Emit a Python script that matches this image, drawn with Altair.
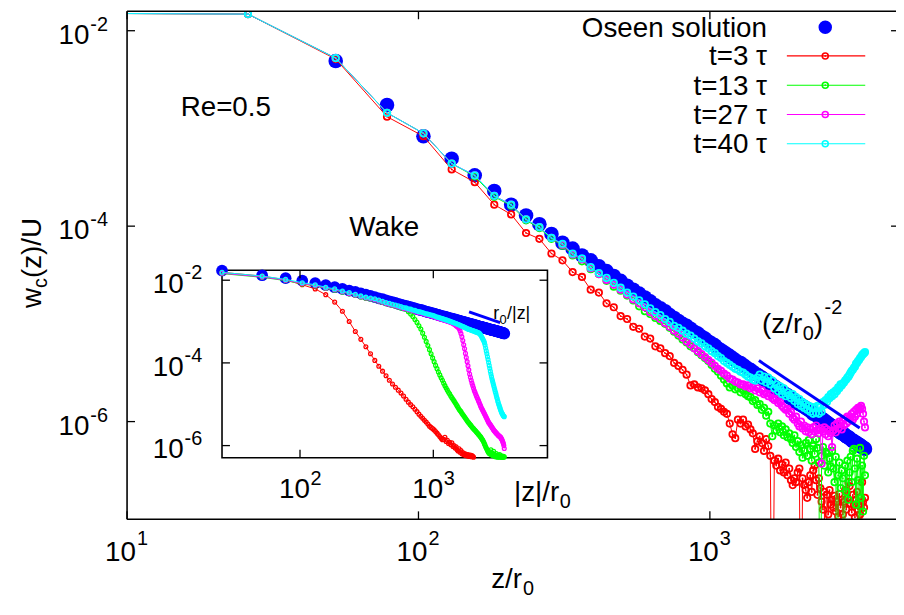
import altair as alt
import pandas as pd

FONT = "Liberation Sans"

# ---------------------------------------------------------------- data
# axial grid (z / r0), shared by all curves
z_grid = [
    26, 52, 78, 104, 130, 156, 182, 208, 234, 260,
    286, 312, 338, 364, 390, 416, 442, 468, 494, 520,
    546, 572, 598, 624, 650, 676, 702, 728, 754, 780,
    806, 832, 858, 884, 910, 936, 962, 988, 1014, 1040,
    1066, 1092, 1118, 1144, 1170, 1196, 1222, 1248, 1274, 1300,
    1326, 1352, 1378, 1404, 1430, 1456, 1482, 1508, 1534, 1560,
    1586, 1612, 1638, 1664, 1690, 1716, 1742, 1768, 1794, 1820,
    1846, 1872, 1898, 1924, 1950, 1976, 2002, 2028, 2054, 2080,
    2106, 2132, 2158, 2184, 2210, 2236, 2262, 2288, 2314, 2340,
    2366, 2392, 2418, 2444, 2470, 2496, 2522, 2548, 2574, 2600,
    2626, 2652, 2678, 2704, 2730, 2756, 2782, 2808, 2834, 2860,
    2886, 2912, 2938, 2964, 2990, 3016, 3042, 3068, 3094, 3120,
    3146, 3172, 3198, 3224, 3250, 3276, 3302, 3328, 3354, 3380,
    3406,
]
# point left of the plotted range (near the sphere), shared by all runs
z_edge = 1.0
w_edge_log = -1.81

# main panel: log10(w_c/U) in front of the sphere
oseen_log = [
    None, -2.31, -2.76, -3.08, -3.31, -3.48, -3.64, -3.78, -3.89, -3.98,
    -4.08, -4.17, -4.23, -4.30, -4.35, -4.41, -4.46, -4.51, -4.56, -4.61,
    -4.65, -4.69, -4.73, -4.77, -4.81, -4.84, -4.87, -4.91, -4.94, -4.97,
    -5.00, -5.02, -5.05, -5.08, -5.10, -5.13, -5.15, -5.18, -5.20, -5.22,
    -5.25, -5.27, -5.29, -5.31, -5.33, -5.35, -5.37, -5.39, -5.40, -5.42,
    -5.44, -5.46, -5.47, -5.49, -5.51, -5.52, -5.54, -5.55, -5.57, -5.58,
    -5.60, -5.61, -5.63, -5.64, -5.66, -5.67, -5.68, -5.70, -5.71, -5.72,
    -5.73, -5.75, -5.76, -5.77, -5.78, -5.80, -5.81, -5.82, -5.83, -5.84,
    -5.85, -5.86, -5.87, -5.88, -5.89, -5.90, -5.92, -5.92, -5.93, -5.94,
    -5.96, -5.97, -5.97, -5.98, -5.99, -6.00, -6.01, -6.02, -6.03, -6.04,
    -6.05, -6.06, -6.07, -6.07, -6.08, -6.09, -6.10, -6.11, -6.12, -6.12,
    -6.13, -6.14, -6.15, -6.16, -6.16, -6.17, -6.18, -6.19, -6.20, -6.20,
    -6.21, -6.22, -6.22, -6.23, -6.24, -6.24, -6.25, -6.26, -6.27, -6.27,
    -6.28,
]
t3_log = [
    -1.83, -2.29, -2.88, -3.08, -3.42, -3.55, -3.78, -3.88, -4.07, -4.13,
    -4.28, -4.35, -4.47, -4.52, -4.65, -4.68, -4.79, -4.83, -4.92, -4.95,
    -5.03, -5.05, -5.13, -5.15, -5.23, -5.25, -5.30, -5.33, -5.40, -5.43,
    -5.47, -5.52, -5.63, -5.62, -5.65, -5.66, -5.68, -5.72, -5.77, -5.80,
    -5.85, -5.87, -5.90, -5.92, -6.02, -6.13, -6.17, -5.98, -6.02, -5.98,
    -6.05, -6.03, -6.08, -6.12, -6.28, -6.20, -6.15, -6.22, -6.30, -6.18,
    -6.25, -6.35, -9.00, -6.40, -6.45, -6.38, -6.50, -6.44, -6.52, -6.42,
    -6.55, -6.48, -6.60, -6.65, -6.58, -6.62, -6.52, -6.48, -9.00, -6.58,
    -6.65, -6.70, -6.78, -6.62, -6.55, -6.72, -6.50, -6.45, -6.60, -6.75,
    -6.58, -6.68, -6.82, -6.90, -6.72, -9.00, -6.75, -6.95, -6.70, -6.85,
    -6.80, -6.88, -6.76, -6.92, -6.82, -6.97, -6.74, -6.88, -6.80, -6.95,
    -6.82, -6.70, -6.90, -6.78, -6.62, -6.66, -6.84, -6.93, -6.75, -6.85,
    -6.98, -6.80, -6.72, -6.90, -6.86, -6.95, -9.00, -6.62, -6.82, -6.88,
    -6.78,
]
t13_log = [
    -1.83, -2.28, -2.84, -3.05, -3.36, -3.49, -3.70, -3.79, -3.94, -4.02,
    -4.13, -4.20, -4.30, -4.36, -4.44, -4.49, -4.56, -4.62, -4.66, -4.71,
    -4.76, -4.82, -4.87, -4.90, -4.94, -4.97, -5.00, -5.04, -5.08, -5.12,
    -5.16, -5.19, -5.23, -5.25, -5.29, -5.32, -5.35, -5.38, -5.42, -5.46,
    -5.49, -5.53, -5.57, -5.61, -5.65, -5.63, -5.67, -5.66, -5.70, -5.68,
    -5.72, -5.74, -5.75, -5.79, -5.78, -5.83, -5.82, -5.88, -5.86, -5.94,
    -5.90, -6.02, -6.15, -6.04, -6.09, -6.02, -6.11, -6.05, -6.14, -6.08,
    -6.16, -6.12, -6.18, -6.22, -6.14, -6.26, -6.20, -6.31, -6.24, -6.37,
    -6.30, -6.22, -6.35, -6.19, -6.28, -6.40, -6.25, -6.33, -6.18, -6.27,
    -6.42, -9.00, -6.35, -6.26, -6.45, -6.31, -6.33, -6.52, -6.38, -6.46,
    -6.30, -6.48, -6.62, -6.36, -9.00, -6.55, -6.42, -6.68, -6.50, -6.58,
    -9.00, -6.45, -6.72, -6.40, -6.80, -6.52, -6.36, -6.62, -6.30, -6.28,
    -6.48, -6.85, -6.38, -6.60, -9.00, -6.27, -6.78, -6.45, -6.92, -6.35,
    -6.55,
]
t27_log = [
    -1.83, -2.28, -2.84, -3.05, -3.36, -3.48, -3.69, -3.78, -3.93, -4.01,
    -4.12, -4.19, -4.29, -4.34, -4.43, -4.49, -4.55, -4.60, -4.65, -4.70,
    -4.75, -4.79, -4.83, -4.88, -4.92, -4.95, -4.99, -5.03, -5.07, -5.10,
    -5.14, -5.18, -5.21, -5.25, -5.28, -5.31, -5.34, -5.37, -5.40, -5.43,
    -5.46, -5.48, -5.51, -5.53, -5.56, -5.57, -5.59, -5.60, -5.62, -5.62,
    -5.64, -5.63, -5.66, -5.65, -5.68, -5.66, -5.70, -5.68, -5.72, -5.71,
    -5.74, -5.72, -5.76, -5.78, -5.77, -5.81, -5.80, -5.84, -5.86, -5.88,
    -5.87, -5.92, -5.90, -5.96, -5.98, -5.95, -6.02, -6.05, -6.00, -6.07,
    -6.04, -6.10, -6.06, -6.11, -6.08, -6.13, -6.06, -6.10, -6.04, -6.09,
    -6.12, -6.07, -6.43, -6.10, -6.06, -6.13, -6.08, -6.15, -6.10, -6.12,
    -6.26, -6.09, -6.04, -6.11, -6.02, -6.07, -6.00, -6.02, -6.08, -5.99,
    -6.04, -5.97, -6.02, -5.95, -6.00, -5.96, -5.97, -5.92, -5.98, -5.90,
    -5.95, -5.88, -5.92, -5.86, -5.88, -5.86, -5.84, -5.87, -5.92, -6.00,
    -6.06,
]
t40_log = [
    -1.83, -2.28, -2.84, -3.05, -3.36, -3.48, -3.69, -3.78, -3.93, -4.01,
    -4.12, -4.18, -4.28, -4.33, -4.42, -4.48, -4.53, -4.58, -4.63, -4.68,
    -4.72, -4.76, -4.80, -4.84, -4.88, -4.91, -4.95, -4.98, -5.02, -5.04,
    -5.07, -5.10, -5.12, -5.15, -5.18, -5.20, -5.23, -5.25, -5.28, -5.30,
    -5.33, -5.35, -5.38, -5.40, -5.42, -5.44, -5.46, -5.47, -5.49, -5.50,
    -5.52, -5.54, -5.55, -5.57, -5.58, -5.55, -5.52, -5.58, -5.54, -5.60,
    -5.55, -5.62, -5.58, -5.66, -5.62, -5.69, -5.64, -5.72, -5.66, -5.74,
    -5.70, -5.73, -5.76, -5.72, -5.79, -5.75, -5.82, -5.77, -5.84, -5.80,
    -5.86, -5.82, -5.88, -5.84, -5.90, -5.85, -5.92, -5.86, -5.91, -5.84,
    -5.92, -5.85, -5.90, -5.80, -5.83, -5.78, -5.80, -5.75, -5.76, -5.72,
    -5.74, -5.70, -5.72, -5.68, -5.69, -5.65, -5.66, -5.62, -5.63, -5.61,
    -5.60, -5.58, -5.57, -5.55, -5.54, -5.52, -5.50, -5.48, -5.47, -5.45,
    -5.44, -5.41, -5.40, -5.38, -5.37, -5.35, -5.34, -5.32, -5.31, -5.30,
    -5.29,
]

# inset: log10(w_c/U) in the wake, against |z|/r0
wake_oseen_log = [
    -1.77, -1.88, -1.95, -2.01, -2.07, -2.12, -2.17, -2.21, -2.25, -2.28,
    -2.32, -2.35, -2.38, -2.41, -2.44, -2.46, -2.49, -2.51, -2.53, -2.55,
    -2.57, -2.59, -2.61, -2.62, -2.64, -2.65, -2.67, -2.68, -2.70, -2.71,
    -2.72, -2.73, -2.75, -2.76, -2.77, -2.78, -2.79, -2.80, -2.81, -2.82,
    -2.83, -2.84, -2.85, -2.86, -2.87, -2.88, -2.88, -2.89, -2.90, -2.91,
    -2.92, -2.92, -2.93, -2.94, -2.95, -2.95, -2.96, -2.97, -2.97, -2.98,
    -2.99, -2.99, -3.00, -3.01, -3.01, -3.02, -3.02, -3.03, -3.04, -3.04,
    -3.05, -3.05, -3.06, -3.06, -3.07, -3.07, -3.08, -3.08, -3.09, -3.09,
    -3.10, -3.10, -3.11, -3.11, -3.12, -3.12, -3.13, -3.13, -3.13, -3.14,
    -3.14, -3.15, -3.15, -3.16, -3.16, -3.16, -3.17, -3.17, -3.18, -3.18,
    -3.18, -3.19, -3.19, -3.20, -3.20, -3.20, -3.21, -3.21, -3.21, -3.22,
    -3.22, -3.22, -3.23, -3.23, -3.23, -3.24, -3.24, -3.24, -3.25, -3.25,
    -3.25, -3.26, -3.26, -3.26, -3.27, -3.27, -3.27, -3.28, -3.28, -3.28,
    -3.29,
]
wake_t3_log = [
    -1.81, -1.90, -1.99, -2.11, -2.21, -2.35, -2.53, -2.75, -3.00, -3.24,
    -3.43, -3.61, -3.78, -3.94, -4.08, -4.20, -4.31, -4.42, -4.51, -4.59,
    -4.66, -4.73, -4.80, -4.88, -4.95, -5.01, -5.06, -5.12, -5.18, -5.24,
    -5.29, -5.34, -5.39, -5.43, -5.48, -5.53, -5.56, -5.59, -5.62, -5.66,
    -5.70, -5.74, -5.78, -5.82, -5.86, -5.85, -5.80, -5.90, -5.87, -5.95,
    -5.92, -5.98, -5.93, -6.02, -6.00, -6.06, -6.03, -6.10, -6.13, -6.08,
    -6.16, -6.12, -6.20, -6.17, -6.22, -6.19, -6.24, -6.21, -6.25, -6.22,
    -6.26, -6.25, -6.23, -6.27, -6.24, -6.26, -6.28,
]
wake_t13_log = [
    -1.84, -1.93, -2.01, -2.09, -2.14, -2.20, -2.24, -2.29, -2.33, -2.37,
    -2.41, -2.44, -2.46, -2.48, -2.51, -2.54, -2.57, -2.59, -2.61, -2.63,
    -2.65, -2.67, -2.69, -2.70, -2.76, -2.82, -2.88, -2.95, -3.02, -3.10,
    -3.18, -3.28, -3.38, -3.48, -3.58, -3.68, -3.78, -3.88, -3.97, -4.06,
    -4.14, -4.22, -4.29, -4.36, -4.42, -4.49, -4.55, -4.61, -4.66, -4.71,
    -4.75, -4.80, -4.84, -4.88, -4.92, -4.96, -5.00, -5.04, -5.08, -5.12,
    -5.15, -5.18, -5.22, -5.25, -5.28, -5.31, -5.34, -5.37, -5.40, -5.43,
    -5.45, -5.48, -5.50, -5.52, -5.55, -5.57, -5.59, -5.61, -5.63, -5.65,
    -5.67, -5.69, -5.71, -5.73, -5.75, -5.77, -5.79, -5.81, -5.84, -5.86,
    -5.89, -5.92, -5.96, -5.99, -6.03, -6.06, -6.09, -6.12, -6.15, -6.17,
    -6.19, -6.15, -6.21, -6.10, -6.22, -6.18, -6.24, -6.20, -6.14, -6.25,
    -6.22, -6.27, -6.24, -6.19, -6.26, -6.28, -6.23, -6.27, -6.25, -6.28,
    -6.22, -6.27, -6.26, -6.28, -6.25, -6.28, -6.27, -6.28, -6.26, -6.28,
    -6.27,
]
wake_t27_log = [
    -1.83, -1.92, -2.00, -2.08, -2.13, -2.19, -2.23, -2.28, -2.32, -2.36,
    -2.40, -2.43, -2.45, -2.47, -2.50, -2.53, -2.56, -2.58, -2.60, -2.62,
    -2.64, -2.66, -2.68, -2.69, -2.71, -2.72, -2.74, -2.75, -2.77, -2.78,
    -2.79, -2.80, -2.82, -2.83, -2.84, -2.85, -2.86, -2.87, -2.88, -2.90,
    -2.91, -2.92, -2.93, -2.94, -2.95, -2.96, -2.97, -2.98, -2.99, -3.00,
    -3.01, -3.02, -3.03, -3.05, -3.06, -3.08, -3.10, -3.12, -3.14, -3.17,
    -3.22, -3.29, -3.37, -3.46, -3.56, -3.66, -3.77, -3.87, -3.97, -4.07,
    -4.17, -4.27, -4.35, -4.42, -4.49, -4.55, -4.61, -4.67, -4.71, -4.76,
    -4.80, -4.84, -4.88, -4.92, -4.96, -5.00, -5.04, -5.08, -5.11, -5.14,
    -5.17, -5.20, -5.23, -5.26, -5.29, -5.32, -5.35, -5.38, -5.41, -5.44,
    -5.46, -5.48, -5.50, -5.52, -5.54, -5.56, -5.58, -5.60, -5.62, -5.64,
    -5.65, -5.67, -5.68, -5.70, -5.71, -5.72, -5.74, -5.75, -5.76, -5.77,
    -5.78, -5.79, -5.80, -5.82, -5.84, -5.86, -5.89, -5.92, -5.95, -6.00,
    -6.07,
]
wake_t40_log = [
    -1.81, -1.90, -1.98, -2.06, -2.11, -2.17, -2.21, -2.26, -2.30, -2.34,
    -2.38, -2.41, -2.43, -2.45, -2.48, -2.51, -2.54, -2.56, -2.58, -2.60,
    -2.62, -2.64, -2.66, -2.67, -2.69, -2.70, -2.72, -2.73, -2.75, -2.76,
    -2.77, -2.78, -2.80, -2.81, -2.82, -2.83, -2.84, -2.85, -2.86, -2.88,
    -2.89, -2.90, -2.91, -2.92, -2.93, -2.94, -2.95, -2.96, -2.97, -2.98,
    -2.99, -3.00, -3.01, -3.02, -3.03, -3.04, -3.05, -3.06, -3.07, -3.08,
    -3.09, -3.10, -3.11, -3.12, -3.13, -3.14, -3.15, -3.16, -3.17, -3.18,
    -3.19, -3.19, -3.20, -3.21, -3.21, -3.22, -3.23, -3.23, -3.24, -3.25,
    -3.25, -3.26, -3.27, -3.27, -3.28, -3.30, -3.32, -3.35, -3.38, -3.41,
    -3.44, -3.47, -3.51, -3.57, -3.64, -3.71, -3.78, -3.85, -3.92, -3.99,
    -4.06, -4.13, -4.20, -4.27, -4.33, -4.39, -4.44, -4.49, -4.54, -4.59,
    -4.64, -4.69, -4.73, -4.78, -4.83, -4.87, -4.92, -4.96, -5.00, -5.03,
    -5.07, -5.10, -5.14, -5.17, -5.20, -5.22, -5.24, -5.26, -5.28, -5.29,
    -5.30,
]

# reference power laws
slope2_z = [1473, 3266]
slope2_log = [-5.376, -6.066]
slope1_z = [1854, 3170]
slope1_log = [-2.767, -3.024]

# ticks / labels
main_xtick_exp = [1, 2, 3]
main_ytick_exp = [-2, -4, -6]
inset_xtick_exp = [2, 3]
inset_ytick_exp = [-2, -4, -6]
legend_labels = ["t=3 \u03c4", "t=13 \u03c4", "t=27 \u03c4", "t=40 \u03c4"]

# ---------------------------------------------------------------- styles
RED, GREEN, MAGENTA, CYAN, BLUE = "#ff0000", "#00ff00", "#ff00ff", "#00ffff", "#0000ff"
W, H = 774, 512
SUP = 20

xs_main = alt.Scale(type="log", domain=[10, 4318], nice=False)
ys_main = alt.Scale(type="log", domain=[1e-7, 0.0158], nice=False)
xs_in = alt.Scale(type="log", domain=[26, 7180], range=[95.7, 423.7], nice=False)
ys_in = alt.Scale(type="log", domain=[5.07e-7, 0.0174], range=[450, 261], nice=False)

one = pd.DataFrame({"k": [0]})


def frame(zs, logs):
    rows = [(z, 10.0 ** v) for z, v in zip(zs, logs) if v is not None]
    return pd.DataFrame(rows, columns=["z", "w"])


def enc(xs, ys):
    return dict(x=alt.X("z:Q", scale=xs, axis=None), y=alt.Y("w:Q", scale=ys, axis=None))


def run_layers(df, color, xs, ys, ring, ring_w, dot):
    base = alt.Chart(df)
    out = [
        base.mark_line(color=color, strokeWidth=1, clip=True).encode(**enc(xs, ys)),
        base.mark_point(shape="circle", filled=False, color=color, size=ring,
                        strokeWidth=ring_w, opacity=1, clip=True).encode(**enc(xs, ys)),
    ]
    if dot:
        out.append(base.mark_circle(color=color, size=dot, opacity=1, clip=True).encode(**enc(xs, ys)))
    return out


def label(text, x, y, size=28, align="left", angle=0):
    return alt.Chart(one).mark_text(
        text=text, font=FONT, fontSize=size, align=align, baseline="alphabetic",
        angle=angle, color="black").encode(x=alt.value(x), y=alt.value(y))


def rule(x, x2, y, y2, width=1.6):
    return alt.Chart(one).mark_rule(color="black", strokeWidth=width).encode(
        x=alt.value(x), x2=alt.value(x2), y=alt.value(y), y2=alt.value(y2))


# ---------------------------------------------------------------- main panel
main = []
main.append(alt.Chart(frame(z_grid, oseen_log)).mark_circle(
    color=BLUE, size=215, opacity=1, clip=True).encode(**enc(xs_main, ys_main)))
for logs, col in [(t3_log, RED), (t13_log, GREEN), (t27_log, MAGENTA), (t40_log, CYAN)]:
    main += run_layers(frame([z_edge] + z_grid, [w_edge_log] + logs), col,
                       xs_main, ys_main, 42, 1.8, 3)
main.append(alt.Chart(frame(slope2_z, slope2_log)).mark_line(
    color=BLUE, strokeWidth=3, clip=True).encode(**enc(xs_main, ys_main)))

# frame (right edge lies outside the picture)
main += [rule(0, 776, 0, 0), rule(0, 776, H, H), rule(0, 0, 0, H)]

xt = pd.DataFrame({"z": [10.0 ** e for e in main_xtick_exp], "sup": [str(e) for e in main_xtick_exp]})
yt = pd.DataFrame({"w": [10.0 ** e for e in main_ytick_exp], "sup": [str(e) for e in main_ytick_exp]})
xenc = alt.X("z:Q", scale=xs_main, axis=None)
yenc = alt.Y("w:Q", scale=ys_main, axis=None)
main += [
    alt.Chart(xt).mark_rule(color="black", strokeWidth=1.3).encode(x=xenc, y=alt.value(H - 8), y2=alt.value(H)),
    alt.Chart(xt).mark_rule(color="black", strokeWidth=1.3).encode(x=xenc, y=alt.value(0), y2=alt.value(8)),
    alt.Chart(yt).mark_rule(color="black", strokeWidth=1.3).encode(y=yenc, x=alt.value(0), x2=alt.value(8)),
    alt.Chart(yt).mark_rule(color="black", strokeWidth=1.3).encode(y=yenc, x=alt.value(770), x2=alt.value(778)),
    alt.Chart(xt).mark_text(text="10", font=FONT, fontSize=28, align="right", baseline="alphabetic", dx=9)
    .encode(x=xenc, y=alt.value(554)),
    alt.Chart(xt).mark_text(font=FONT, fontSize=SUP, align="left", baseline="alphabetic", dx=10)
    .encode(x=xenc, y=alt.value(538), text="sup:N"),
    alt.Chart(yt).mark_text(text="10", font=FONT, fontSize=28, align="right", baseline="alphabetic", dy=13.3)
    .encode(y=yenc, x=alt.value(-38)),
    alt.Chart(yt).mark_text(font=FONT, fontSize=SUP, align="left", baseline="alphabetic", dy=0)
    .encode(y=yenc, x=alt.value(-37), text="sup:N"),
]

# axis titles
main += [
    label("z/r", 367, 581), label("0", 399, 588, size=SUP),
    label("w", -87, 299, angle=270), label("c", -81, 278.8, size=SUP, angle=270),
    label("(z)/U", -87, 268.8, angle=270),
]
# annotations
main += [
    label("Re=0.5", 54, 106),
    label("Wake", 224, 226),
    label("(z/r", 640, 324), label("0", 681, 331, size=SUP), label(")", 692, 324),
    label("-2", 703, 305, size=SUP),
    label("|z|/r", 390, 494), label("0", 436, 501, size=SUP),
]
# legend (gnuplot style: text on the left, sample on the right)
main += [
    label("Oseen solution", 645, 26, align="right"),
    alt.Chart(one).mark_circle(color=BLUE, size=185, opacity=1).encode(x=alt.value(703.7), y=alt.value(16)),
]
for i, (name, col) in enumerate(zip(legend_labels, [RED, GREEN, MAGENTA, CYAN])):
    yy = 45 + 29.5 * i
    main += [
        label(name, 645, yy + 9.5, align="right"),
        alt.Chart(one).mark_rule(color=col, strokeWidth=1.2).encode(
            x=alt.value(665), x2=alt.value(744), y=alt.value(yy)),
        alt.Chart(one).mark_point(shape="circle", filled=False, color=col, size=36, strokeWidth=1.6,
                                  opacity=1).encode(x=alt.value(703.7), y=alt.value(yy)),
        alt.Chart(one).mark_circle(color=col, size=3, opacity=1).encode(x=alt.value(703.7), y=alt.value(yy)),
    ]

# ---------------------------------------------------------------- inset
inset = [alt.Chart(one).mark_rect(fill="white", stroke="black", strokeWidth=1.6).encode(
    x=alt.value(95.7), x2=alt.value(423.7), y=alt.value(261), y2=alt.value(450))]
inset.append(alt.Chart(frame(z_grid, wake_oseen_log)).mark_circle(
    color=BLUE, size=140, opacity=1).encode(**enc(xs_in, ys_in)))
for logs, col in [(wake_t3_log, RED), (wake_t13_log, GREEN), (wake_t27_log, MAGENTA), (wake_t40_log, CYAN)]:
    inset += run_layers(frame(z_grid, logs), col, xs_in, ys_in, 15, 1.3, 0)
inset.append(alt.Chart(frame(slope1_z, slope1_log)).mark_line(
    color=BLUE, strokeWidth=3).encode(**enc(xs_in, ys_in)))

ixt = pd.DataFrame({"z": [10.0 ** e for e in inset_xtick_exp], "sup": [str(e) for e in inset_xtick_exp]})
iyt = pd.DataFrame({"w": [10.0 ** e for e in inset_ytick_exp], "sup": [str(e) for e in inset_ytick_exp]})
ixenc = alt.X("z:Q", scale=xs_in, axis=None)
iyenc = alt.Y("w:Q", scale=ys_in, axis=None)
inset += [
    alt.Chart(ixt).mark_rule(color="black", strokeWidth=1.3).encode(x=ixenc, y=alt.value(442), y2=alt.value(450)),
    alt.Chart(ixt).mark_rule(color="black", strokeWidth=1.3).encode(x=ixenc, y=alt.value(261), y2=alt.value(269)),
    alt.Chart(iyt).mark_rule(color="black", strokeWidth=1.3).encode(y=iyenc, x=alt.value(95.7), x2=alt.value(103.7)),
    alt.Chart(iyt).mark_rule(color="black", strokeWidth=1.3).encode(y=iyenc, x=alt.value(415.7), x2=alt.value(423.7)),
    alt.Chart(ixt).mark_text(text="10", font=FONT, fontSize=28, align="right", baseline="alphabetic", dx=10)
    .encode(x=ixenc, y=alt.value(491)),
    alt.Chart(ixt).mark_text(font=FONT, fontSize=SUP, align="left", baseline="alphabetic", dx=10.5)
    .encode(x=ixenc, y=alt.value(477), text="sup:N"),
    alt.Chart(iyt).mark_text(text="10", font=FONT, fontSize=28, align="right", baseline="alphabetic", dy=12.7)
    .encode(y=iyenc, x=alt.value(57)),
    alt.Chart(iyt).mark_text(font=FONT, fontSize=SUP, align="left", baseline="alphabetic", dy=-1)
    .encode(y=iyenc, x=alt.value(58), text="sup:N"),
    label("r", 369, 310, size=18), label("0", 375.5, 315, size=13), label("/|z|", 383, 310, size=18),
]

chart = alt.layer(alt.layer(*main), alt.layer(*inset)).resolve_scale(
    x="independent", y="independent"
).properties(
    width=W, height=H,
    padding={"left": 120, "top": 1, "right": 1, "bottom": 79},
    autosize=alt.AutoSizeParams(type="none"),
    background="white",
).configure_view(stroke=None)

chart.save("out.html", embed_options={"renderer": "svg", "actions": False})
